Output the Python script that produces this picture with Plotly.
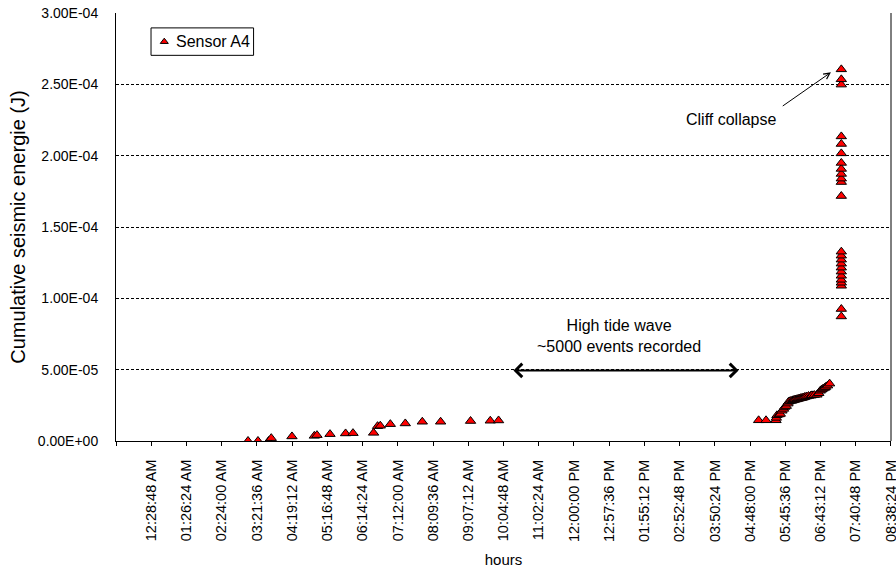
import plotly.graph_objects as go

# Time of day (fraction of a day) and cumulative seismic energy (J) for sensor A4
morning_t = [0.1299, 0.1412, 0.1533, 0.1563, 0.1798, 0.2052, 0.2082, 0.2230,
             0.2407, 0.2491, 0.2725, 0.2770, 0.2801, 0.2915, 0.3085, 0.3278,
             0.3486, 0.3826, 0.4050, 0.4144]
morning_e = [0.0, 0.0, 0.0, 2.0e-6, 3.2e-6, 3.6e-6, 4.1e-6, 4.8e-6,
             5.3e-6, 5.5e-6, 5.7e-6, 1.04e-5, 1.07e-5, 1.18e-5, 1.23e-5, 1.35e-5,
             1.35e-5, 1.40e-5, 1.42e-5, 1.44e-5]

evening_t = [0.7097, 0.7181, 0.7294, 0.7298, 0.7305, 0.7330, 0.7343, 0.7362,
             0.7380, 0.7392, 0.7411, 0.7430, 0.7437, 0.7456, 0.7475, 0.7487,
             0.7500, 0.7513, 0.7530, 0.7545, 0.7560, 0.7575, 0.7590, 0.7605,
             0.7620, 0.7640, 0.7664, 0.7690, 0.7703, 0.7729, 0.7759, 0.7780,
             0.7797, 0.7812, 0.7828, 0.7845, 0.7857, 0.7880, 0.7903]
evening_e = [1.45e-5, 1.45e-5, 1.45e-5, 1.62e-5, 1.80e-5, 1.86e-5, 1.90e-5, 2.12e-5,
             2.25e-5, 2.38e-5, 2.45e-5, 2.62e-5, 2.75e-5, 2.80e-5, 2.82e-5, 2.85e-5,
             2.88e-5, 2.90e-5, 2.92e-5, 2.95e-5, 2.98e-5, 3.00e-5, 3.02e-5, 3.05e-5,
             3.08e-5, 3.12e-5, 3.15e-5, 3.18e-5, 3.20e-5, 3.22e-5, 3.24e-5, 3.35e-5,
             3.52e-5, 3.60e-5, 3.66e-5, 3.72e-5, 3.78e-5, 3.88e-5, 4.02e-5]

collapse_t = 0.8036
collapse_e = [8.73e-5, 9.25e-5, 1.088e-4, 1.109e-4, 1.130e-4, 1.158e-4, 1.187e-4,
              1.215e-4, 1.243e-4, 1.271e-4, 1.299e-4, 1.327e-4, 1.717e-4, 1.815e-4,
              1.839e-4, 1.872e-4, 1.907e-4, 1.949e-4, 2.016e-4, 2.082e-4, 2.135e-4,
              2.498e-4, 2.535e-4, 2.605e-4]

x_tickvals = [-0.02, 0.02, 0.06, 0.10, 0.14, 0.18, 0.22, 0.26, 0.30, 0.34, 0.38,
              0.42, 0.46, 0.50, 0.54, 0.58, 0.62, 0.66, 0.70, 0.74, 0.78, 0.82, 0.86]
x_ticktext = ["", "12:28:48 AM", "01:26:24 AM", "02:24:00 AM", "03:21:36 AM",
              "04:19:12 AM", "05:16:48 AM", "06:14:24 AM", "07:12:00 AM",
              "08:09:36 AM", "09:07:12 AM", "10:04:48 AM", "11:02:24 AM",
              "12:00:00 PM", "12:57:36 PM", "01:55:12 PM", "02:52:48 PM",
              "03:50:24 PM", "04:48:00 PM", "05:45:36 PM", "06:43:12 PM",
              "07:40:48 PM", "08:38:24 PM"]
y_tickvals = [0.0, 5e-5, 1e-4, 1.5e-4, 2e-4, 2.5e-4, 3e-4]
y_ticktext = ["0.00E+00", "5.00E-05", "1.00E-04", "1.50E-04", "2.00E-04",
              "2.50E-04", "3.00E-04"]

series_name = "Sensor A4"

times = morning_t + evening_t + [collapse_t] * len(collapse_e)
energy = morning_e + evening_e + collapse_e

FONT = "Liberation Sans, Arial, sans-serif"
MARKER = dict(symbol="triangle-up", color="#ff0000",
              line=dict(color="black", width=1))

fig = go.Figure()
fig.add_trace(go.Scatter(
    x=times, y=energy, mode="markers", name=series_name,
    marker=dict(size=9, **MARKER), showlegend=False,
))

# Legend key drawn on an overlay axis spanning the plot area (0..1 each way)
fig.add_trace(go.Scatter(
    x=[0.0623], y=[0.933], mode="markers", xaxis="x2", yaxis="y2",
    marker=dict(size=7, **MARKER), showlegend=False, hoverinfo="skip",
))

fig.update_layout(
    width=896, height=568,
    margin=dict(l=116, r=5, t=13, b=127, autoexpand=False),
    paper_bgcolor="white", plot_bgcolor="white",
    font=dict(family=FONT, size=14, color="black"),
    xaxis=dict(
        range=[-0.02, 0.86001], tickmode="array",
        tickvals=x_tickvals, ticktext=x_ticktext, tickangle=-90,
        tickfont=dict(size=14.5), ticklabeloverflow="allow",
        ticks="outside", ticklen=4, tickcolor="black",
        showline=True, linecolor="black", linewidth=1,
        showgrid=False, zeroline=False, automargin=False,
        ticklabelstandoff=8,
        title=dict(text="hours", font=dict(size=15), standoff=13),
    ),
    yaxis=dict(
        range=[0, 3e-4], tickmode="array",
        tickvals=y_tickvals, ticktext=y_ticktext,
        ticks="", ticklabelstandoff=14,
        showline=True, linecolor="black", linewidth=1,
        showgrid=True, gridcolor="black", gridwidth=1, griddash="3px,2px",
        zeroline=False, automargin=False,
        title=dict(text="Cumulative seismic energie (J)", font=dict(size=20),
                   standoff=6),
    ),
    xaxis2=dict(range=[0, 1], overlaying="x", visible=False, fixedrange=True),
    yaxis2=dict(range=[0, 1], overlaying="y", visible=False, fixedrange=True),
)

# Legend frame and label
fig.add_shape(type="rect", xref="paper", yref="paper",
              x0=0.0452, x1=0.1775, y0=0.9011, y1=0.9652,
              line=dict(color="black", width=1), fillcolor="white", layer="below")
fig.add_annotation(x=0.0752, y=0.933, xref="paper", yref="paper",
                   text=series_name, showarrow=False, xanchor="left",
                   yanchor="middle", font=dict(size=16))

# Solid right-hand border of the plotting area
fig.add_shape(type="line", xref="paper", yref="paper", x0=1, x1=1, y0=0, y1=1,
              line=dict(color="black", width=1))

# High tide period: double-headed arrow and caption
fig.add_annotation(x=0.6869, y=4.95e-5, ax=0.4296, ay=4.95e-5,
                   xref="x", yref="y", axref="x", ayref="y",
                   text="", showarrow=True, arrowside="end+start",
                   arrowhead=4, arrowsize=1.3, arrowwidth=2, arrowcolor="black")
fig.add_annotation(x=0.5516, y=7.38e-5, xref="x", yref="y",
                   text="High tide wave<br>~5000 events recorded",
                   showarrow=False, font=dict(size=16), align="center")

# Cliff collapse label and pointer
fig.add_annotation(x=0.7918, y=2.584e-4, ax=0.7354, ay=2.341e-4,
                   xref="x", yref="y", axref="x", ayref="y",
                   text="", showarrow=True, arrowhead=5, arrowsize=1.2,
                   arrowwidth=1, arrowcolor="black")
fig.add_annotation(x=0.6787, y=2.252e-4, xref="x", yref="y",
                   text="Cliff collapse", showarrow=False,
                   font=dict(size=16))

fig.write_html("out.html")
